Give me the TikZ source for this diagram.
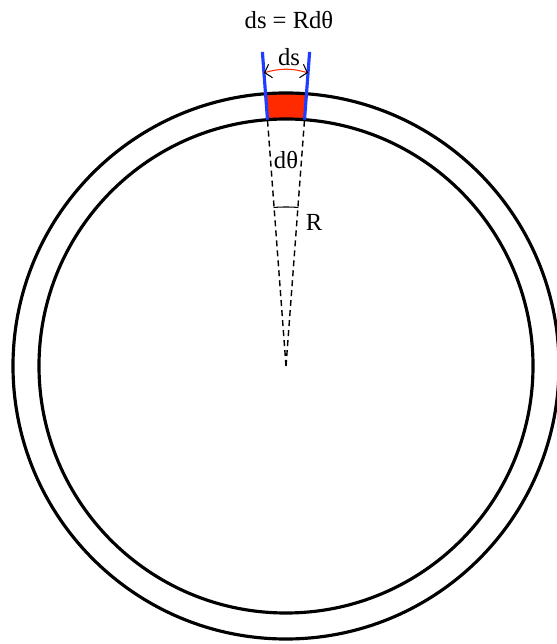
\documentclass[tikz,border=0pt]{standalone}
\usepackage{fontspec}
\setmainfont{Liberation Serif}
\usetikzlibrary{arrows.meta,calc}
\definecolor{Patch}{HTML}{FF2A00}
\definecolor{Edge}{HTML}{1F3DFF}
\tikzset{
 ring/.style={draw=black, line width=1.8pt},
 radial/.style={draw=black, dash pattern=on 0.12cm off 0.08cm, line width=0.8pt},
 bound/.style={draw=Edge, line width=1.8pt},
 span/.style={draw=Patch, line width=0.6pt, {Straight Barb[black,length=3.5pt,width=8pt]}-{Straight Barb[black,length=3.5pt,width=8pt]}},
 tag/.style={font=\fontsize{14}{16}\selectfont, inner sep=1pt}
}
\begin{document}
\begin{tikzpicture}[x=0.02cm,y=0.02cm]
\useasboundingbox (-286,-278) rectangle (270,366);
\coordinate (O) at (0,0);
% element of the ring
\fill[Patch] (85.7:247) arc[start angle=85.7,end angle=94.3,radius=247]
  -- (94.3:273) arc[start angle=94.3,end angle=85.7,radius=273] -- cycle;
\draw[ring] (O) circle[radius=273];
\draw[ring] (O) circle[radius=247];
\coordinate (il) at (94.3:247);
\coordinate (ir) at (85.7:247);
\coordinate (tl) at (94.3:315);
\coordinate (tr) at (85.7:315);
\draw[radial] (O) -- (il);
\draw[radial] (O) -- (ir);
\draw[bound] (il) -- (tl);
\draw[bound] (ir) -- (tr);
\coordinate (sl) at (94.3:294);
\coordinate (sr) at (85.7:294);
\draw[span] (sl) to[bend left=16] (sr);
\draw[line width=0.6pt] (85.5:159) arc[start angle=85.5,end angle=94.5,radius=159];
\node[tag] (formula) at (3,346) {ds = Rdθ};
\node[tag] (dslabel) at (3,309) {ds};
\node[tag] (dtheta) at (0,206) {dθ};
\node[tag] (rlabel) at (28,144) {R};
\end{tikzpicture}
\end{document}
